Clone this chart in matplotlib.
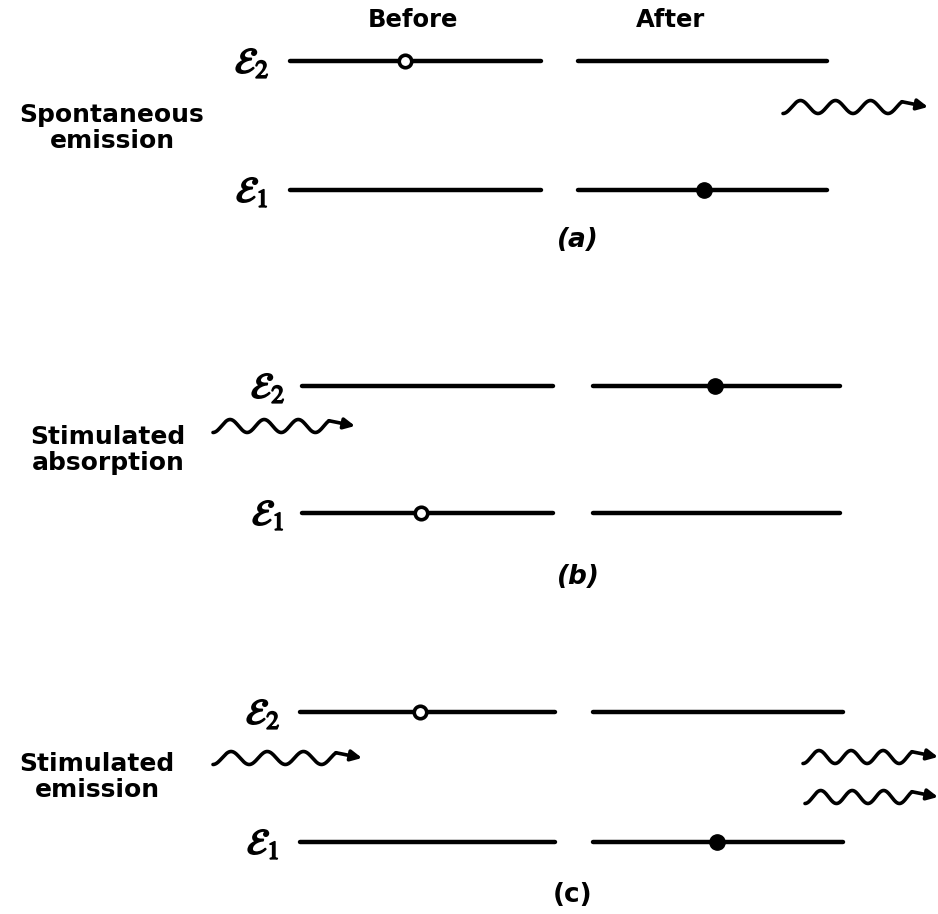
import numpy as np
import matplotlib.pyplot as plt
import matplotlib.patheffects as pe

plt.rcParams['mathtext.fontset'] = 'stix'

# what happens in each process
process_names = ['Spontaneous\nemission', 'Stimulated\nabsorption', 'Stimulated\nemission']
panel_labels = ['(a)', '(b)', '(c)']
panel_styles = ['italic', 'italic', 'normal']
before_level = [2, 1, 2]      # level holding the open circle before
after_level = [1, 2, 1]       # level holding the filled dot after
photons_in = [0, 1, 1]
photons_out = [1, 0, 2]

# layout (pixels, y down)
level_y = [(61, 190), (386, 513), (712, 842)]           # (E2, E1) per panel
before_x = [(290, 541), (302, 553), (300, 555)]
after_x = [(578, 827), (593, 840), (593, 843)]
circle_x = [405, 421, 420]
dot_x = [704, 715, 717]
elabel_x = [252, 268, 263]
name_xy = [(112, 128), (108, 450), (97, 777)]
panel_label_xy = [(578, 240), (578, 577), (573, 895)]
in_photon = [None, (213, 355, 426), (213, 362, 758)]
out_photon = [[(783, 928, 107)], [], [(803, 938, 757), (805, 938, 797)]]

fig = plt.figure(figsize=(9.38, 9.14), dpi=100)
ax = fig.add_axes([0, 0, 1, 1])
ax.set_xlim(0, 938)
ax.set_ylim(914, 0)
ax.axis('off')

LW = 3.2
bold_fx = [pe.withStroke(linewidth=1.2, foreground='black')]


def photon(x0, x1, y):
    # wiggly line ending in a small arrow
    head = 26
    xs = np.linspace(x0, x1 - head, 200)
    t = (xs - x0) / (x1 - head - x0)
    ys = y + 6.5 * np.cos(2 * np.pi * 3.4 * t)
    ax.plot(xs, ys, color='black', lw=2.6, solid_capstyle='round')
    ax.annotate('', xy=(x1, y), xytext=(xs[-1], ys[-1]), annotation_clip=False,
                arrowprops=dict(arrowstyle='-|>', lw=2.6, color='black',
                                mutation_scale=16, shrinkA=0, shrinkB=0))


ax.text(413, 20, 'Before', ha='center', va='center', fontsize=17.5, fontweight='bold')
ax.text(670, 20, 'After', ha='center', va='center', fontsize=17.5, fontweight='bold')

for i in range(3):
    y2, y1 = level_y[i]
    for lvl, y in ((2, y2), (1, y1)):
        ax.plot(before_x[i], [y, y], color='black', lw=LW, solid_capstyle='round', zorder=2)
        ax.plot(after_x[i], [y, y], color='black', lw=LW, solid_capstyle='round', zorder=2)
        ax.text(elabel_x[i], y + 2, r'$\mathcal{E}_{%d}$' % lvl, ha='center', va='center',
                fontsize=26, path_effects=bold_fx)
    yb = y2 if before_level[i] == 2 else y1
    ya = y2 if after_level[i] == 2 else y1
    ax.plot(circle_x[i], yb, 'o', ms=9, mfc='white', mec='black', mew=2.6, zorder=3)
    ax.plot(dot_x[i], ya, 'o', ms=11, color='black', zorder=3)

    ax.text(*name_xy[i], process_names[i], ha='center', va='center', fontsize=18,
            fontweight='bold', linespacing=1.15)
    ax.text(*panel_label_xy[i], panel_labels[i], ha='center', va='center', fontsize=19,
            fontweight='bold', style=panel_styles[i])

    if photons_in[i]:
        photon(*in_photon[i])
    for p in out_photon[i][:photons_out[i]]:
        photon(*p)

fig.savefig('out.png', dpi=100)
